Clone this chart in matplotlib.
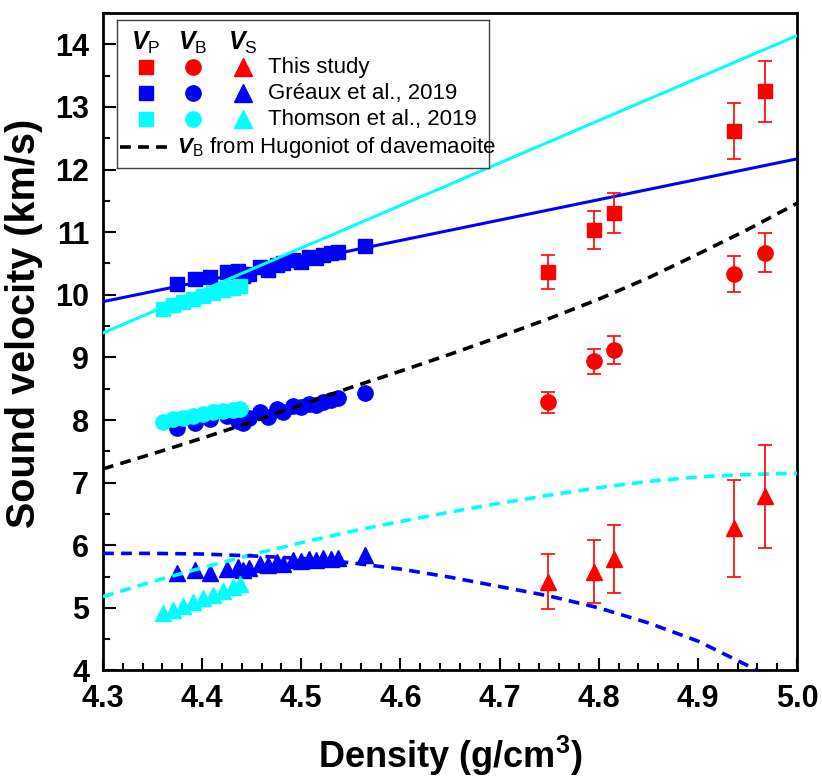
import numpy as np
import matplotlib
matplotlib.use('Agg')
import matplotlib.pyplot as plt
import matplotlib.ticker as ticker

plt.rcParams['font.family'] = 'Liberation Sans'
plt.rcParams['mathtext.fontset'] = 'custom'
plt.rcParams['mathtext.rm'] = 'Liberation Sans'
plt.rcParams['mathtext.it'] = 'Liberation Sans:italic'
plt.rcParams['mathtext.bf'] = 'Liberation Sans:bold'
plt.rcParams['mathtext.bfit'] = 'Liberation Sans:italic:bold'

# This study (red)
study_rho = [4.749, 4.795, 4.815, 4.936, 4.968]
study_vp = [10.36, 11.03, 11.30, 12.62, 13.25]
study_vp_err = [0.27, 0.30, 0.32, 0.45, 0.49]
study_vb = [8.28, 8.94, 9.12, 10.33, 10.67]
study_vb_err = [0.17, 0.20, 0.22, 0.29, 0.31]
study_vs = [5.42, 5.58, 5.78, 6.27, 6.78]
study_vs_err = [0.44, 0.50, 0.55, 0.77, 0.82]

# Greaux et al., 2019 (blue)
gre_rho = [4.375, 4.393, 4.408, 4.425, 4.436, 4.441, 4.447, 4.458, 4.466, 4.475,
           4.482, 4.492, 4.500, 4.508, 4.515, 4.522, 4.530, 4.537, 4.564]
gre_vp = [10.18, 10.25, 10.28, 10.36, 10.38, 10.30, 10.33, 10.45, 10.40, 10.47,
          10.50, 10.55, 10.52, 10.60, 10.58, 10.63, 10.66, 10.68, 10.78]
gre_vb = [7.87, 7.95, 8.01, 8.07, 7.99, 7.96, 8.04, 8.12, 8.05, 8.17,
          8.12, 8.22, 8.20, 8.26, 8.24, 8.28, 8.32, 8.35, 8.43]
gre_vs = [5.56, 5.60, 5.55, 5.62, 5.66, 5.60, 5.64, 5.70, 5.68, 5.74,
          5.70, 5.77, 5.75, 5.78, 5.76, 5.79, 5.78, 5.80, 5.84]

# Thomson et al., 2019 (cyan)
tho_rho = [4.361, 4.371, 4.381, 4.391, 4.401, 4.411, 4.421, 4.431, 4.438]
tho_vp = [9.77, 9.83, 9.88, 9.93, 9.98, 10.03, 10.07, 10.11, 10.14]
tho_vb = [7.97, 8.01, 8.04, 8.07, 8.10, 8.12, 8.14, 8.16, 8.18]
tho_vs = [4.92, 4.97, 5.03, 5.09, 5.15, 5.21, 5.27, 5.33, 5.38]

# fitted lines
fit_rho = [4.30, 5.00]
gre_vp_fit = [9.89, 12.17]
tho_vp_fit = [9.39, 14.14]

curve_rho = [4.30, 4.35, 4.40, 4.45, 4.50, 4.55, 4.60, 4.65, 4.70, 4.75,
             4.80, 4.85, 4.90, 4.95, 5.00]
hug_vb = [7.22, 7.46, 7.71, 7.97, 8.24, 8.52, 8.78, 9.05, 9.33, 9.62,
          9.93, 10.27, 10.65, 11.04, 11.46]
tho_vs_fit = [5.18, 5.42, 5.64, 5.85, 6.04, 6.22, 6.38, 6.53, 6.67, 6.80,
              6.92, 7.02, 7.09, 7.13, 7.15]
gre_vs_fit = [5.87, 5.87, 5.86, 5.83, 5.79, 5.72, 5.62, 5.49, 5.34, 5.19,
              5.00, 4.76, 4.47, 4.08, 3.62]

RED, BLUE, CYAN = '#FF0000', '#0000FF', '#00FFFF'

fig = plt.figure(figsize=(8.22, 7.78), dpi=100)
ax = fig.add_subplot(111)
fig.subplots_adjust(left=0.1253, right=0.9696, bottom=0.1382, top=0.9833)

# literature data
for rho, vp, vb, vs, c in [(gre_rho, gre_vp, gre_vb, gre_vs, BLUE),
                           (tho_rho, tho_vp, tho_vb, tho_vs, CYAN)]:
    ax.plot(rho, vp, 's', ms=10, color=c, mec=c, zorder=2)
    ax.plot(rho, vb, 'o', ms=11, color=c, mec=c, zorder=2)
    ax.plot(rho, vs, '^', ms=12, color=c, mec=c, zorder=2)

ax.plot(fit_rho, gre_vp_fit, '-', color=BLUE, lw=2.2, zorder=3)
ax.plot(fit_rho, tho_vp_fit, '-', color=CYAN, lw=2.2, zorder=3)
ax.plot(curve_rho, hug_vb, color='k', lw=2.6, dashes=(3, 2), zorder=3)
ax.plot(curve_rho, tho_vs_fit, color=CYAN, lw=2.6, dashes=(3, 2), zorder=3)
ax.plot(curve_rho, gre_vs_fit, color=BLUE, lw=2.6, dashes=(3, 2), zorder=3)

# this study
eb = dict(color=RED, mec=RED, capsize=5, elinewidth=1.2, capthick=1.2, ls='none', zorder=4)
ax.errorbar(study_rho, study_vp, yerr=study_vp_err, fmt='s', ms=10, **eb)
ax.errorbar(study_rho, study_vb, yerr=study_vb_err, fmt='o', ms=11, **eb)
ax.errorbar(study_rho, study_vs, yerr=study_vs_err, fmt='^', ms=12, **eb)

ax.set_xlim(4.3, 5.0)
ax.set_ylim(4, 14.5)
ax.xaxis.set_major_locator(ticker.MultipleLocator(0.1))
ax.xaxis.set_minor_locator(ticker.MultipleLocator(0.02))
ax.yaxis.set_major_locator(ticker.MultipleLocator(1))
ax.yaxis.set_minor_locator(ticker.MultipleLocator(0.5))
ax.xaxis.set_major_formatter(ticker.FormatStrFormatter('%.1f'))
ax.tick_params(which='both', direction='in', top=False, right=False, width=1.5)
ax.tick_params(which='major', length=9, labelsize=22)
ax.tick_params(axis='x', which='major', pad=10)
ax.tick_params(axis='y', which='major', pad=10)
ax.tick_params(which='minor', length=5)
for lab in ax.get_xticklabels() + ax.get_yticklabels():
    lab.set_fontweight('bold')
for s in ax.spines.values():
    s.set_linewidth(2)

ax.set_xlabel(r'Density (g/cm$^\mathbf{3}$)', fontsize=26, fontweight='bold', labelpad=14)
ax.set_ylabel('Sound velocity (km/s)', fontsize=28.5, fontweight='bold')
ax.yaxis.set_label_coords(-0.086, 0.528)

# legend box
lg = ax.inset_axes([0.020, 0.764, 0.536, 0.225])
lg.set_xlim(0, 1)
lg.set_ylim(0, 1)
lg.set_xticks([])
lg.set_yticks([])
for s in lg.spines.values():
    s.set_linewidth(1)
    s.set_edgecolor('#404040')

col_x = [0.078, 0.204, 0.339]
heads = [r'$\mathbfit{V}_\mathrm{P}$', r'$\mathbfit{V}_\mathrm{B}$', r'$\mathbfit{V}_\mathrm{S}$']
for x, h in zip(col_x, heads):
    lg.text(x, 0.85, h, ha='center', va='center', fontsize=18)

rows = [(RED, 'This study'), (BLUE, 'Gréaux et al., 2019'), (CYAN, 'Thomson et al., 2019')]
row_y = [0.682, 0.507, 0.331]
for (c, lab), y in zip(rows, row_y):
    lg.plot(col_x[0], y, 's', ms=10, color=c, mec=c)
    lg.plot(col_x[1], y, 'o', ms=11, color=c, mec=c)
    lg.plot(col_x[2], y, '^', ms=13, color=c, mec=c)
    lg.text(0.406, y, lab, va='center', fontsize=16)

lg.plot([0.008, 0.148], [0.142, 0.142], color='k', lw=2.6, dashes=(3, 2))
lg.text(0.161, 0.142, r'$\mathbfit{V}_\mathrm{B}$ from Hugoniot of davemaoite', va='center', fontsize=16)

fig.savefig('out.png', dpi=100)
